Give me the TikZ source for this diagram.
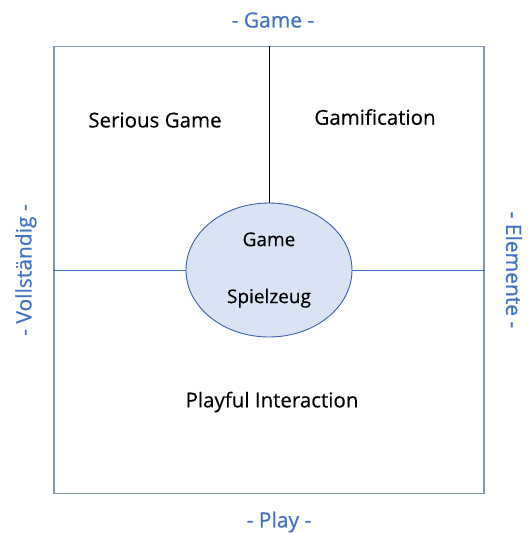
\documentclass[tikz,border=0pt]{standalone}
\usepackage{fontspec}
\setmainfont{Open Sans}
\newfontfamily\axisfont[FakeBold=0.7]{Open Sans}
\newfontfamily\fieldfont[FakeBold=0.3]{Open Sans}
\usetikzlibrary{positioning,shapes.geometric}
\definecolor{accent}{HTML}{4472C4}
\definecolor{framegray}{HTML}{8497B0}
\definecolor{bubble}{HTML}{DAE3F3}

\begin{document}
\begin{tikzpicture}[
  x=1pt, y=1pt,
  quadrant/.style={draw=framegray, line width=1.6pt, minimum width=430pt, minimum height=447pt, inner sep=0pt},
  core/.style={ellipse, draw=accent!85!black, line width=0.9pt, fill=bubble, minimum width=166pt, minimum height=134pt, inner sep=0pt, align=center, font=\fieldfont\fontsize{19}{57}\selectfont},
  field/.style={font=\fieldfont\fontsize{20.5}{24}\selectfont, inner sep=0pt},
  axis/.style={font=\axisfont\fontsize{21}{24}\selectfont, text=accent, inner sep=0pt},
  split/.style={line width=0.8pt}
]
\useasboundingbox (-269,-263) rectangle (259,270);
\node[quadrant] (frame) at (0,0) {};
\node[core] (core) at (0,0) {Game\\Spielzeug};
% dividing lines
\draw[split, black] (frame.north) -- (core.north);
\draw[split, accent] (frame.west) -- (core.west);
\draw[split, accent] (core.east) -- (frame.east);
% quadrant texts
\node[field] (serious) at (-114,150) {Serious Game};
\node[field] (gamif) at (106,153) {Gamification};
\node[field] (playful) at (3,-132) {Playful Interaction};
% axis labels
\node[axis] (top) at (4,250) {- Game -};
\node[axis] (bottom) at (10,-252) {- Play -};
\node[axis, rotate=90] (left) at (-243,0) {- Vollständig -};
\node[axis, rotate=-90] (right) at (245,0) {- Elemente -};
\end{tikzpicture}
\end{document}
